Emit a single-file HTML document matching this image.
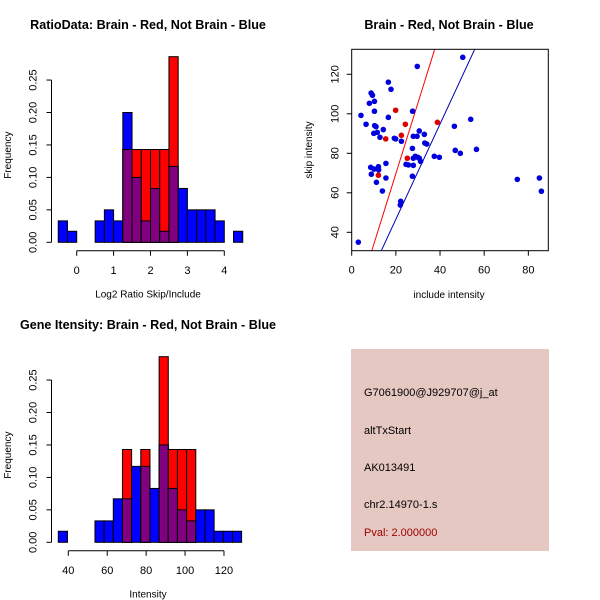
<!DOCTYPE html>
<html><head><meta charset="utf-8"><style>
body{margin:0;background:#fff}
svg{display:block;font-family:"Liberation Sans",sans-serif}
</style></head><body>
<svg id="chart" width="600" height="600" xmlns="http://www.w3.org/2000/svg">
<text x="148" y="29" font-size="12.6" font-weight="bold" text-anchor="middle">RatioData: Brain - Red, Not Brain - Blue</text>
<text x="449" y="29" font-size="12.6" font-weight="bold" text-anchor="middle">Brain - Red, Not Brain - Blue</text>
<text x="148" y="329" font-size="12.6" font-weight="bold" text-anchor="middle">Gene Itensity: Brain - Red, Not Brain - Blue</text>
<g>
<rect x="351" y="349" width="198" height="202" fill="#e5c8c2"/>
<text x="364" y="396" font-size="11">G7061900@J929707@j_at</text>
<text x="364" y="434" font-size="11">altTxStart</text>
<text x="364" y="471" font-size="11">AK013491</text>
<text x="364" y="508" font-size="11">chr2.14970-1.s</text>
<text x="364" y="536" font-size="11" fill="#a00000">Pval: 2.000000</text>
</g>
</svg>
<script>
// ---- histogram 1 data (log2 ratio) ----
const ratioBreakStart = -0.5;
const ratioBinWidth = 0.25;
const ratioBlue = [0.033,0.017,0,0,0.033,0.05,0.033,0.2,0.1,0.033,0.083,0.017,0.117,0.083,0.05,0.05,0.05,0.033,0,0.017];
const ratioRed = [0,0,0,0,0,0,0,0.143,0.143,0.143,0.143,0.143,0.286,0,0,0,0,0,0,0];
const ratioXTicks = [0,1,2,3,4];
// ---- histogram 2 data (intensity) ----
const intBreakStart = 34.86;
const intBinWidth = 4.71;
const intBlue = [0.017,0,0,0,0.033,0.033,0.067,0.067,0.117,0.117,0.083,0.15,0.083,0.05,0.033,0.05,0.05,0.017,0.017,0.017];
const intRed = [0,0,0,0,0,0,0,0.143,0,0.143,0,0.286,0.143,0.143,0.143,0,0,0,0,0];
const intXTicks = [40,60,80,100,120];
const freqTicks = ["0.00","0.05","0.10","0.15","0.20","0.25"];
// ---- scatter data ----
const blueX = [3,4.2,6.5,8,8.8,9.4,10.3,10.3,10,10.4,11,11.6,12.8,14.3,16.6,17.8,16.6,19.3,19.9,22.5,8.6,8.9,10.1,12.1,12.2,11.2,15.5,15.5,13.9,22.2,22,27.6,29.7,27.9,29.6,30.6,32.9,33.1,34,27.5,28.8,27.9,29.9,30.6,31.2,24.6,25.7,27.9,27.5,37.4,39.7,46.5,46.9,49.2,53.9,56.5,50.3,75,85,85.9];
const blueY = [35,99.2,94.7,105.3,110.5,109.4,106.3,101.3,90.1,94,93.5,90.6,88.1,92,116,112.4,98.2,87.6,87.3,86.1,72.9,69.4,72,73.2,71.6,65.3,74.9,67.5,60.9,55.7,53.8,101.3,124,88.6,88.6,91.3,89.6,85.2,84.7,82.5,78.5,77.5,78,77.5,75.9,74.4,74.1,73.9,68.4,78.5,78,93.7,81.5,80,97.2,82,128.6,66.8,67.5,60.8];
const redX = [15.4,19.9,22.5,24.3,25.2,38.8,12.1];
const redY = [87.3,101.8,89.1,94.7,77.5,95.7,68.9];
const redLine = [-1.9,3.58];   // intercept, slope
const blueLine = [-1.6,2.41];
const scXTicks = [0,20,40,60,80];
const scYTicks = [40,60,80,100,120];

const NS="http://www.w3.org/2000/svg";
const svg=document.getElementById('chart');
function mk(tag,attrs,parent){const e=document.createElementNS(NS,tag);for(const k in attrs)e.setAttribute(k,attrs[k]);(parent||svg).appendChild(e);return e;}
function txt(s,attrs,parent){const e=mk('text',attrs,parent);e.textContent=s;return e;}

function histogram(name,x,y,breakStart,bw,blue,red,xticks,xlabel){
  const g=mk('g',{});
  
  
  const c='#000';
  for(let i=0;i<blue.length;i++){
    const x0=x(breakStart+i*bw), x1=x(breakStart+(i+1)*bw);
    const b=blue[i], r=red[i], m=Math.min(b,r);
    if(b>0){const el=mk('rect',{x:x0,y:y(b),width:x1-x0,height:y(0)-y(b),fill:'#0000ff',stroke:c,'stroke-width':1},g);
      
      }
    if(r>0){const el=mk('rect',{x:x0,y:y(r),width:x1-x0,height:y(0)-y(r),fill:'#ff0000',stroke:c,'stroke-width':1},g);
      
      }
    if(m>0){const el=mk('rect',{x:x0,y:y(m),width:x1-x0,height:y(0)-y(m),fill:'#800080',stroke:c,'stroke-width':1},g);
      
      }
  }
  const ya=mk('g',{},g);
  
  
  const ax=51.5;
  mk('line',{x1:ax,x2:ax,y1:y(0),y2:y(0.25),stroke:c},ya);
  freqTicks.forEach(t=>{const v=parseFloat(t);mk('line',{x1:ax-5,x2:ax,y1:y(v),y2:y(v),stroke:c},ya);
    txt(t,{x:0,y:0,'font-size':11,'text-anchor':'middle',transform:`translate(${ax-15},${y(v)}) rotate(-90)`},ya);});
  const yl=txt('Frequency',{'font-size':10,'text-anchor':'middle',transform:`translate(11,${(y(0)+y(0.25))/2-6}) rotate(-90)`},g);
  
  
  const xa=mk('g',{},g);
  
  
  const ay=y(0)+8.5;
  mk('line',{x1:x(xticks[0]),x2:x(xticks[xticks.length-1]),y1:ay,y2:ay,stroke:c},xa);
  xticks.forEach(t=>{mk('line',{x1:x(t),x2:x(t),y1:ay,y2:ay+5,stroke:c},xa);
    txt(String(t),{x:x(t),y:ay+23,'font-size':11,'text-anchor':'middle'},xa);});
  const xl=txt(xlabel,{x:148,y:y(0)+55,'font-size':10,'text-anchor':'middle'},g);
  
  
}
histogram('ratio-histogram',v=>76.7+v*36.9,v=>242.3-v*649,ratioBreakStart,ratioBinWidth,ratioBlue,ratioRed,ratioXTicks,'Log2 Ratio Skip/Include');
histogram('intensity-histogram',v=>68.3+(v-40)*1.946,v=>542.3-v*649,intBreakStart,intBinWidth,intBlue,intRed,intXTicks,'Intensity');

(function(){
  const sx=v=>351.7+v*2.208, sy=v=>232.3-(v-40)*1.975;
  const L=351.7,R=548.3,T=49.3,B=250.7;
  const g=mk('g',{});
  
  
  mk('defs',{},g).innerHTML='<clipPath id="sc"><rect x="'+L+'" y="'+T+'" width="'+(R-L)+'" height="'+(B-T)+'"/></clipPath>';
  [[redLine,'#ff0000','fit-line-red'],[blueLine,'#0000b0','fit-line-blue']].forEach(([p,col,nm])=>{
    const xa=0,xb=90;
    const l=mk('line',{x1:sx(xa),y1:sy(p[0]+p[1]*xa),x2:sx(xb),y2:sy(p[0]+p[1]*xb),stroke:col,'clip-path':'url(#sc)'},g);
    
    
  });
  for(let i=0;i<blueX.length;i++){const p=mk('circle',{cx:sx(blueX[i]),cy:sy(blueY[i]),r:2.8,fill:'#0000dd'},g);
    
    }
  for(let i=0;i<redX.length;i++){const p=mk('circle',{cx:sx(redX[i]),cy:sy(redY[i]),r:2.8,fill:'#dd0000'},g);
    
    }
  mk('rect',{x:L,y:T,width:R-L,height:B-T,fill:'none',stroke:'#000'},g);
  scXTicks.forEach(t=>{mk('line',{x1:sx(t),x2:sx(t),y1:B,y2:B+5,stroke:'#000'},g);
    txt(String(t),{x:sx(t),y:B+23,'font-size':11,'text-anchor':'middle'},g);});
  scYTicks.forEach(t=>{mk('line',{x1:L-5,x2:L,y1:sy(t),y2:sy(t),stroke:'#000'},g);
    txt(String(t),{'font-size':11,'text-anchor':'middle',transform:`translate(${L-13},${sy(t)}) rotate(-90)`},g);});
  const xl=txt('include intensity',{x:449,y:298,'font-size':10,'text-anchor':'middle'},g);
  
  
  const yl=txt('skip intensity',{'font-size':10,'text-anchor':'middle',transform:'translate(312,150) rotate(-90)'},g);
  
  
})();
</script>
</body></html>
